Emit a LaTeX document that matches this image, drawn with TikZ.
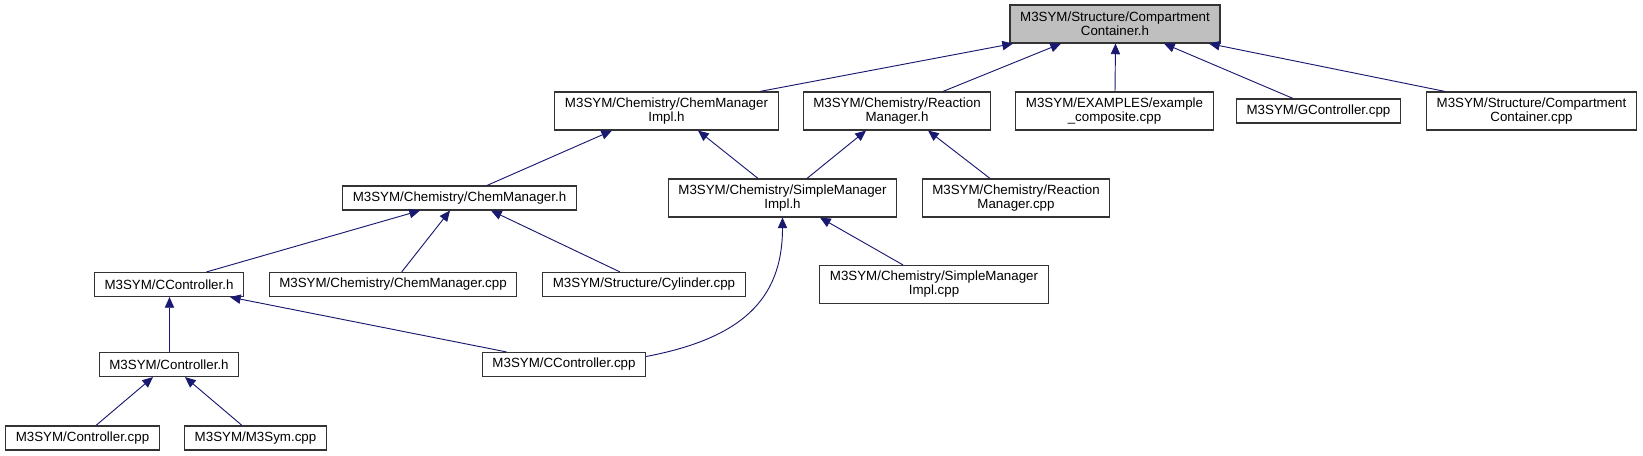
\documentclass[tikz,border=0pt]{standalone}
\usepackage{fontspec}
\setmainfont{Liberation Sans}
\usepackage{tikz}
\usetikzlibrary{arrows.meta, calc}
\usepackage{xcolor}
\definecolor{edgeblue}{HTML}{191970}
\definecolor{rootgray}{HTML}{BFBFBF}

\begin{document}
\begin{tikzpicture}[x=0.75pt, y=-0.75pt,
    file/.style={draw=black!80, line width=0.85pt, fill=white, align=center,
        inner xsep=7.6pt, inner ysep=0pt, minimum height=18pt,
        font=\fontsize{10}{10.5}\selectfont},
    twoline/.style={file, minimum height=28.5pt},
    edge/.style={edgeblue, line width=0.7pt, -{Triangle[length=8pt, width=7pt]}}]
    \useasboundingbox (0,0) rectangle (1643,456);

    % 顶层：被包含的头文件
    \node[twoline, fill=rootgray] (root) at (1115, 24) {M3SYM/Structure/Compartment\\Container.h};

    % 第二层
    \node[twoline] (cmih) at (666.5, 111) {M3SYM/Chemistry/ChemManager\\Impl.h};
    \node[twoline] (rmh) at (897, 111) {M3SYM/Chemistry/Reaction\\Manager.h};
    \node[twoline] (excomp) at (1114.5, 111) {M3SYM/EXAMPLES/example\\\_composite.cpp};
    \node[file] (gctrl) at (1318.5, 111) {M3SYM/GController.cpp};
    \node[twoline] (cccpp) at (1531.5, 111) {M3SYM/Structure/Compartment\\Container.cpp};

    % 第三层
    \node[file] (chemh) at (459.5, 198) {M3SYM/Chemistry/ChemManager.h};
    \node[twoline] (smih) at (782.5, 198) {M3SYM/Chemistry/SimpleManager\\Impl.h};
    \node[twoline] (rmcpp) at (1016, 198) {M3SYM/Chemistry/Reaction\\Manager.cpp};

    % 第四层
    \node[file] (cctrlh) at (169, 284.5) {M3SYM/CController.h};
    \node[file] (chemcpp) at (393, 284.5) {M3SYM/Chemistry/ChemManager.cpp};
    \node[file] (cylcpp) at (644, 284.5) {M3SYM/Structure/Cylinder.cpp};
    \node[twoline] (smicpp) at (934, 284.5) {M3SYM/Chemistry/SimpleManager\\Impl.cpp};

    % 第五层和第六层
    \node[file] (ctrlh) at (169, 364.5) {M3SYM/Controller.h};
    \node[file] (cctrlcpp) at (564, 364.5) {M3SYM/CController.cpp};
    \node[file] (ctrlcpp) at (82.5, 438) {M3SYM/Controller.cpp};
    \node[file] (m3sym) at (255.5, 438) {M3SYM/M3Sym.cpp};

    % 包含关系（箭头指向被包含的文件）
    \draw[edge] ($(cmih.north)+(93.5,0)$) -- ($(root.south)+(-102,0)$);
    \draw[edge] ($(rmh.north)+(46,0)$) -- ($(root.south)+(-54,0)$);
    \draw[edge] ($(excomp.north)+(0.5,0)$) -- ($(root.south)+(0.5,0)$);
    \draw[edge] ($(gctrl.north)+(-25.5,0)$) -- ($(root.south)+(49,0)$);
    \draw[edge] ($(cccpp.north)+(-86.5,0)$) -- ($(root.south)+(94,0)$);

    \draw[edge] ($(chemh.north)+(27.5,0)$) -- ($(cmih.south)+(-54.5,0)$);
    \draw[edge] ($(smih.north)+(-24.5,0)$) -- ($(cmih.south)+(31.5,0)$);
    \draw[edge] ($(smih.north)+(24.5,0)$) -- ($(rmh.south)+(-31,0)$);
    \draw[edge] ($(rmcpp.north)+(-26,0)$) -- ($(rmh.south)+(31,0)$);

    \draw[edge] ($(cctrlh.north)+(37.5,0)$) -- ($(chemh.south)+(-39.5,0)$);
    \draw[edge] ($(chemcpp.north)+(8.7,0)$) -- ($(chemh.south)+(-9.5,0)$);
    \draw[edge] ($(cylcpp.north)+(-24,0)$) -- ($(chemh.south)+(31.5,0)$);
    \draw[edge] ($(smicpp.north)+(-31,0)$) -- ($(smih.south)+(37.5,0)$);

    \draw[edge] ($(ctrlh.north)+(0.5,0)$) -- ($(cctrlh.south)+(0.5,0)$);
    \draw[edge] ($(cctrlcpp.north)+(-57.5,0)$) -- ($(cctrlh.south)+(61,0)$);
    \draw[edge] ($(cctrlcpp.east)+(0,-8)$) .. controls +(94,-18) and +(0,83) .. (smih.south);

    \draw[edge] ($(ctrlcpp.north)+(13.5,0)$) -- ($(ctrlh.south)+(-16,0)$);
    \draw[edge] ($(m3sym.north)+(-13.5,0)$) -- ($(ctrlh.south)+(16,0)$);
\end{tikzpicture}
\end{document}
